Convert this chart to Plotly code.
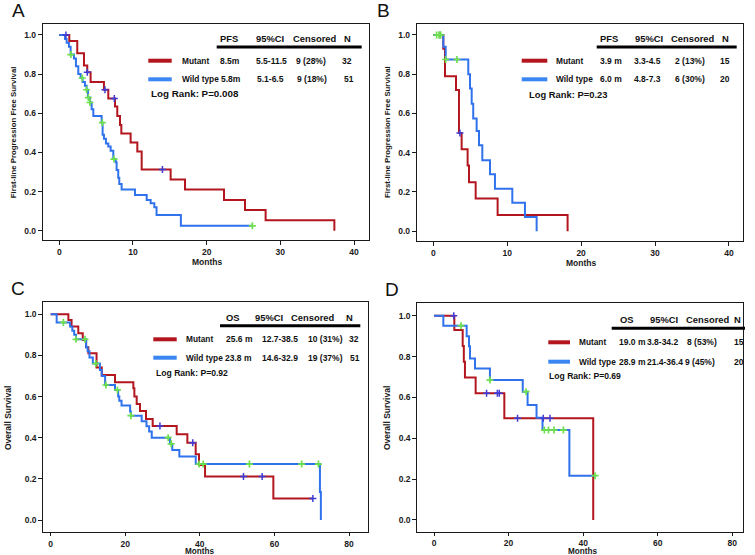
import plotly.graph_objects as go

W, H = 755, 555
FONT = "Liberation Sans, Arial, sans-serif"
RED = "#b3161e"
BLUE = "#2f72ec"
BLUE_KEY = "#3a86f2"
GREEN = "#6ee04c"
PURPLE = "#3d3dd6"
INK = "#1a1a1a"

# ---------------- data ----------------
# Panel A: first-line PFS, all patients
A_mut_t = [0, 1.36, 2.44, 3.35, 3.8, 4.25, 6.06, 6.65, 7.56, 7.87, 8.24, 8.42, 9.68, 10.59, 11.18,
           15.11, 17.06, 22.35, 25.2, 28.0, 37.33]
A_mut_s = [1, 0.969, 0.906, 0.844, 0.81, 0.76, 0.72, 0.676, 0.634, 0.586, 0.54, 0.497, 0.45, 0.404, 0.313,
           0.262, 0.211, 0.157, 0.106, 0.054, 0]
A_mut_cens = [0.9, 3.8, 6.2, 7.47, 14.0]
A_wt_t = [0, 0.77, 1.0, 1.31, 1.54, 1.99, 2.26, 2.58, 2.9, 3.17, 3.48, 3.71, 3.89, 4.16, 4.39, 4.62, 5.75,
          5.88, 6.06, 6.33, 6.65, 6.97, 7.33, 7.65, 7.78, 8.0, 8.14, 8.46, 10.27, 11.86, 12.4, 12.9, 13.2,
          16.5, 26.2]
A_wt_s = [1, 0.98, 0.96, 0.94, 0.90, 0.88, 0.84, 0.80, 0.78, 0.76, 0.74, 0.72, 0.68, 0.655, 0.62, 0.586, 0.552,
          0.49, 0.47, 0.446, 0.43, 0.409, 0.366, 0.35, 0.31, 0.27, 0.238, 0.211, 0.182, 0.157, 0.14, 0.12, 0.08,
          0.025, 0.025]
A_wt_cens = [1.58, 3.12, 3.71, 3.94, 4.16, 5.84, 7.42, 26.2]

# Panel B: first-line PFS, subgroup
B_mut_t = [0, 1.35, 1.58, 3.07, 3.47, 3.83, 4.64, 4.83, 5.73, 8.70, 18.17]
B_mut_s = [1, 0.93, 0.79, 0.72, 0.50, 0.417, 0.335, 0.25, 0.167, 0.083, 0]
B_mut_cens = [0.9, 3.6]
B_wt_t = [0, 1.35, 1.67, 4.73, 4.96, 5.19, 5.40, 5.86, 6.18, 6.63, 7.67, 8.34, 10.69, 12.4, 13.98]
B_wt_s = [1, 0.94, 0.875, 0.80, 0.727, 0.65, 0.574, 0.51, 0.438, 0.361, 0.29, 0.216, 0.145, 0.072, 0]
B_wt_cens = [0.45, 0.77, 1.0, 1.67, 3.2]

# Panel C: OS, all patients
C_mut_t = [0, 4.74, 5.6, 7.4, 8.6, 9.5, 10.1, 12.3, 13.7, 17.25, 22.17, 22.44, 23.06, 23.95, 25.56, 27.35,
           33.79, 36.65, 38.88, 39.78, 41.39, 59.71, 70.3]
C_mut_s = [1, 0.972, 0.94, 0.907, 0.875, 0.84, 0.81, 0.741, 0.705, 0.669, 0.64, 0.60, 0.564, 0.53, 0.491,
           0.457, 0.4165, 0.376, 0.319, 0.267, 0.211, 0.105, 0.105]
C_mut_cens = [29.3, 38.1, 51.7, 56.7, 70.3]
C_wt_t = [0, 1.6, 5.2, 5.8, 6.3, 6.8, 9.5, 9.9, 10.4, 11.3, 13.2, 13.7, 14.6, 17.25, 18.1, 18.4, 19.0, 21.3,
          21.5, 24.4, 25.7, 26.4, 27.1, 32.0, 32.6, 34.5, 38.9, 72.2, 72.45]
C_wt_s = [1, 0.96, 0.94, 0.92, 0.90, 0.878, 0.84, 0.82, 0.79, 0.76, 0.729, 0.70, 0.656, 0.632, 0.60, 0.58,
          0.556, 0.527, 0.507, 0.48, 0.455, 0.43, 0.40, 0.37, 0.34, 0.308, 0.272, 0.136, 0]
C_wt_cens = [3.4, 6.8, 9.2, 12.1, 14.8, 17.9, 21.5, 31.5, 32.3, 39.8, 40.9, 53.3, 67.3, 71.8]

# Panel D: OS, subgroup
D_mut_t = [0, 5.45, 7.69, 8.0, 8.3, 11.17, 18.86, 42.7]
D_mut_s = [1, 0.93, 0.852, 0.775, 0.697, 0.62, 0.4976, 0]
D_mut_cens = [5.3, 14.1, 17.0, 17.5, 22.4, 29.3, 31.1]
D_wt_t = [0, 2.5, 8.76, 9.38, 9.65, 11.0, 15.0, 23.8, 25.1, 27.5, 29.1, 36.3, 43.2]
D_wt_s = [1, 0.951, 0.90, 0.85, 0.79, 0.742, 0.685, 0.628, 0.563, 0.50, 0.44, 0.217, 0.217]
D_wt_cens = [7.24, 15.0, 24.7, 29.6, 30.7, 32.2, 34.7, 43.2]

# tables
A_header = ["PFS", "95%CI", "Censored", "N"]
A_rows = [["Mutant", "8.5m", "5.5-11.5", "9 (28%)", "32"],
          ["Wild type", "5.8m", "5.1-6.5", "9 (18%)", "51"]]
A_logrank = "Log Rank: P=0.008"
B_header = ["PFS", "95%CI", "Censored", "N"]
B_rows = [["Mutant", "3.9 m", "3.3-4.5", "2 (13%)", "15"],
          ["Wild type", "6.0 m", "4.8-7.3", "6 (30%)", "20"]]
B_logrank = "Log Rank: P=0.23"
C_header = ["OS", "95%CI", "Censored", "N"]
C_rows = [["Mutant", "25.6 m", "12.7-38.5", "10 (31%)", "32"],
          ["Wild type", "23.8 m", "14.6-32.9", "19 (37%)", "51"]]
C_logrank = "Log Rank: P=0.92"
D_header = ["OS", "95%CI", "Censored", "N"]
D_rows = [["Mutant", "19.0 m", "3.8-34.2", "8 (53%)", "15"],
          ["Wild type", "28.9 m", "21.4-36.4", "9 (45%)", "20"]]
D_logrank = "Log Rank: P=0.69"

PFS_TICKS = [0, 10, 20, 30, 40]
OS_TICKS = [0, 20, 40, 60, 80]
Y_TICKS = [0.0, 0.2, 0.4, 0.6, 0.8, 1.0]


# ---------------- helpers ----------------
def px(x):
    return x / W


def py(y):
    return 1 - y / H


def surv_at(t, times, surv):
    s = surv[0]
    for ti, si in zip(times, surv):
        if ti <= t:
            s = si
        else:
            break
    return s


panels = [
    dict(key="A", xa="x", ya="y", mut=(A_mut_t, A_mut_s, A_mut_cens), wt=(A_wt_t, A_wt_s, A_wt_cens),
         frame=(42.7, 369.3, 24, 240), xr=[-2.25, 42.07], yr=[-0.0475, 1.056], xt=PFS_TICKS, xtl=4,
         ytitle="First-line Progression Free Survival", ytx=13.3, yty=132, ytsize=7.8,
         mx=206.7, my=262.3, msize=8.5, letter=(18.5, 10.5),
         header=A_header, rows=A_rows, logrank=A_logrank, lrsize=9.8,
         hy=38.7, hcols=[218.3, 254.3, 291, 342.3], line=(216.7, 361.7, 47.0),
         ry=[60.7, 79.3], key_x=(148.3, 171.7), name_x=180,
         vcols=[[217.7, 254.3, 294.3, 340], [218.8, 255, 295, 341.7]], lr=(149, 93.3)),
    dict(key="B", xa="x2", ya="y2", mut=(B_mut_t, B_mut_s, B_mut_cens), wt=(B_wt_t, B_wt_s, B_wt_cens),
         frame=(416.7, 743.3, 24, 240.5), xr=[-2.25, 41.95], yr=[-0.0475, 1.056], xt=PFS_TICKS, xtl=4,
         ytitle="First-line Progression Free Survival", ytx=387, yty=132, ytsize=7.8,
         mx=580.7, my=263.3, msize=8.5, letter=(383.5, 10.5),
         header=B_header, rows=B_rows, logrank=B_logrank, lrsize=9.4,
         hy=38.7, hcols=[597.7, 632.7, 669.3, 720], line=(596.7, 736.7, 47.0),
         ry=[60.7, 79.3], key_x=(521.7, 547.3), name_x=554,
         vcols=[[597.7, 631.7, 672.7, 717.7], [597.7, 631.7, 672.7, 717.7]], lr=(526.7, 94.3)),
    dict(key="C", xa="x3", ya="y3", mut=(C_mut_t, C_mut_s, C_mut_cens), wt=(C_wt_t, C_wt_s, C_wt_cens),
         frame=(43.3, 368.3, 302.3, 532.3), xr=[-1.98, 85.17], yr=[-0.0598, 1.058], xt=OS_TICKS, xtl=3,
         ytitle="Overall Survival", ytx=8, yty=418, ytsize=8.5,
         mx=200, my=551.2, msize=8.2, letter=(17.5, 288.5),
         header=C_header, rows=C_rows, logrank=C_logrank, lrsize=8.6,
         hy=317.7, hcols=[224, 252.7, 289.3, 344], line=(220, 360.3, 325.7),
         ry=[339.3, 357.7], key_x=(153.3, 176.7), name_x=184.3,
         vcols=[[224, 260, 306, 346.7], [223.3, 260, 306, 347.7]], lr=(154, 373.3)),
    dict(key="D", xa="x4", ya="y4", mut=(D_mut_t, D_mut_s, D_mut_cens), wt=(D_wt_t, D_wt_s, D_wt_cens),
         frame=(417.3, 743.3, 303.3, 531.7), xr=[-4.48, 82.95], yr=[-0.0573, 1.0607], xt=OS_TICKS, xtl=3,
         ytitle="Overall Survival", ytx=387, yty=418, ytsize=8.5,
         mx=583.3, my=551.2, msize=8.2, letter=(391.5, 289),
         header=D_header, rows=D_rows, logrank=D_logrank, lrsize=8.6,
         hy=319.3, hcols=[617.7, 648.3, 684.3, 732.3], line=(611.7, 745, 328.3),
         ry=[342.3, 361.7], key_x=(548.3, 570), name_x=577.3,
         vcols=[[616.7, 645, 685, 731.7], [616.7, 645, 683.3, 731.7]], lr=(547, 376)),
]

fig = go.Figure()
annotations = []
shapes = []
layout_axes = {}

for p in panels:
    mt, ms, mc = p["mut"]
    wt_, ws, wc = p["wt"]
    # curves (mutant under wild type)
    fig.add_trace(go.Scatter(x=mt, y=ms, mode="lines", line=dict(color=RED, width=2, shape="hv"),
                             xaxis=p["xa"], yaxis=p["ya"], showlegend=False, hoverinfo="skip"))
    fig.add_trace(go.Scatter(x=wt_, y=ws, mode="lines", line=dict(color=BLUE, width=2, shape="hv"),
                             xaxis=p["xa"], yaxis=p["ya"], showlegend=False, hoverinfo="skip"))
    # censor marks
    fig.add_trace(go.Scatter(x=mc, y=[surv_at(c, mt, ms) for c in mc], mode="markers",
                             marker=dict(symbol="cross-thin", size=5, line=dict(color=PURPLE, width=1.5)),
                             xaxis=p["xa"], yaxis=p["ya"], showlegend=False, hoverinfo="skip"))
    fig.add_trace(go.Scatter(x=wc, y=[surv_at(c, wt_, ws) for c in wc], mode="markers",
                             marker=dict(symbol="cross-thin", size=5, line=dict(color=GREEN, width=1.7)),
                             xaxis=p["xa"], yaxis=p["ya"], showlegend=False, hoverinfo="skip"))

    x0, x1, y0, y1 = p["frame"]
    xname = "xaxis" if p["xa"] == "x" else "xaxis" + p["xa"][1:]
    yname = "yaxis" if p["ya"] == "y" else "yaxis" + p["ya"][1:]
    tickfont = dict(family=FONT, size=8.5, color=INK, weight="bold")
    layout_axes[xname] = dict(domain=[px(x0), px(x1)], range=p["xr"], tickvals=p["xt"], anchor=p["ya"],
                              showline=True, mirror=True, linecolor=INK, linewidth=1, ticks="outside",
                              ticklen=p["xtl"], tickwidth=1, tickcolor=INK, tickfont=tickfont,
                              showgrid=False, zeroline=False, fixedrange=True)
    layout_axes[yname] = dict(domain=[py(y1), py(y0)], range=p["yr"], tickvals=Y_TICKS, tickformat=".1f",
                              anchor=p["xa"], showline=True, mirror=True, linecolor=INK, linewidth=1,
                              ticks="outside", ticklen=4, tickwidth=1, tickcolor=INK, tickfont=tickfont,
                              showgrid=False, zeroline=False, fixedrange=True)

    # panel letter
    annotations.append(dict(x=px(p["letter"][0]), y=py(p["letter"][1]), xref="paper", yref="paper",
                            text=p["key"], showarrow=False, xanchor="center", yanchor="middle",
                            font=dict(family=FONT, size=19, color="#111")))
    # axis titles
    annotations.append(dict(x=px(p["mx"]), y=py(p["my"]), xref="paper", yref="paper", text="Months",
                            showarrow=False, xanchor="center", yanchor="middle", borderpad=0,
                            font=dict(family=FONT, size=p["msize"], color=INK, weight="bold")))
    annotations.append(dict(x=px(p["ytx"]), y=py(p["yty"]), xref="paper", yref="paper", text=p["ytitle"],
                            showarrow=False, xanchor="center", yanchor="middle", textangle=-90,
                            font=dict(family=FONT, size=p["ytsize"], color=INK, weight="bold")))
    # table header
    for txt, lx in zip(p["header"], p["hcols"]):
        annotations.append(dict(x=px(lx), y=py(p["hy"]), xref="paper", yref="paper", text=txt,
                                showarrow=False, xanchor="left", yanchor="middle",
                                font=dict(family=FONT, size=9.4, color="#111", weight="bold")))
    lx0, lx1, ly = p["line"]
    shapes.append(dict(type="line", xref="paper", yref="paper", x0=px(lx0), x1=px(lx1), y0=py(ly), y1=py(ly),
                       line=dict(color="#000", width=3)))
    # rows
    for row, ry, col, vc in zip(p["rows"], p["ry"], [RED, BLUE_KEY], p["vcols"]):
        kx0, kx1 = p["key_x"]
        shapes.append(dict(type="line", xref="paper", yref="paper", x0=px(kx0), x1=px(kx1), y0=py(ry), y1=py(ry),
                           line=dict(color=col, width=4)))
        annotations.append(dict(x=px(p["name_x"]), y=py(ry), xref="paper", yref="paper", text=row[0],
                                showarrow=False, xanchor="left", yanchor="middle",
                                font=dict(family=FONT, size=8.3, color="#111", weight="bold")))
        for txt, lx in zip(row[1:], vc):
            annotations.append(dict(x=px(lx), y=py(ry), xref="paper", yref="paper", text=txt,
                                    showarrow=False, xanchor="left", yanchor="middle",
                                    font=dict(family=FONT, size=8.5, color="#111", weight="bold")))
    annotations.append(dict(x=px(p["lr"][0]), y=py(p["lr"][1]), xref="paper", yref="paper", text=p["logrank"],
                            showarrow=False, xanchor="left", yanchor="middle",
                            font=dict(family=FONT, size=p["lrsize"], color="#111", weight="bold")))

fig.update_layout(width=W, height=H, margin=dict(l=0, r=0, t=0, b=0),
                  paper_bgcolor="white", plot_bgcolor="white", showlegend=False,
                  annotations=annotations, shapes=shapes, **layout_axes)

fig.write_html("out.html", config={"displayModeBar": False, "staticPlot": True},
               post_script="document.body.style.margin='0';document.body.style.padding='0';"
                           "document.body.style.overflow='hidden';")
